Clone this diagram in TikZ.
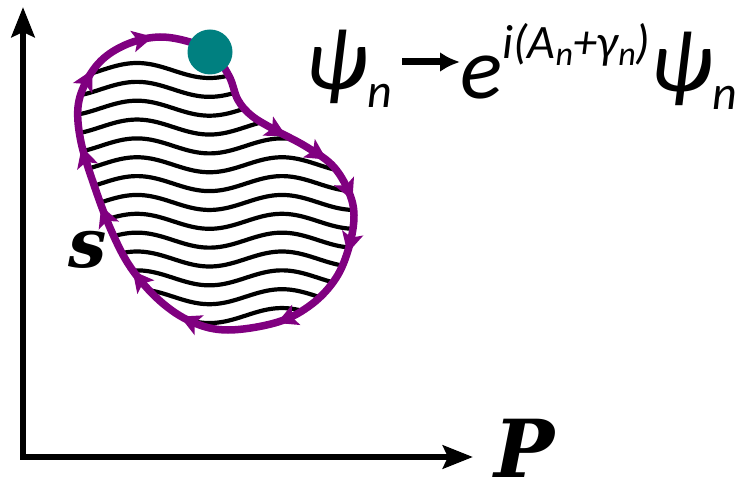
\documentclass[tikz,border=0pt]{standalone}
\usepackage{fontspec}
\usepackage{xcolor}
\usetikzlibrary{arrows.meta, decorations.markings}
\newfontfamily\formulafont{Carlito}
\newfontfamily\labelfont{DejaVu Serif}
\definecolor{LoopPurple}{RGB}{128,0,128}
\definecolor{DotTeal}{RGB}{0,128,128}
\newcommand{\flowtip}{\fill (11pt,0pt) -- (-10pt,11pt) -- (-5pt,0pt) -- (-10pt,-11pt) -- cycle;}

\begin{document}
\begin{tikzpicture}[
    x=1pt, y=-1pt,
    axis/.style={line width=6.5pt, line join=miter,
                 {Stealth[length=30pt, width=23pt, inset=5pt]}-{Stealth[length=30pt, width=23pt, inset=5pt]}},
    wave/.style={line width=4.2pt, black},
    loopshape/.style={insert path={plot[smooth cycle, tension=0.6] coordinates {
        (212,52) (229,76) (238,100) (252,116) (275,130) (305,146) (332,165)
        (348,190) (354,215) (349,247) (336,278) (312,304) (278,322) (228,330)
        (192,322) (160,301) (131,268) (111,230) (94,185) (81,142) (78,107)
        (87,80) (104,58) (130,43) (160,37) (190,42)}}},
    loopline/.style={line width=7.5pt, LoopPurple, postaction={decorate},
        decoration={markings,
            mark=at position 0.086 with {\flowtip},
            mark=at position 0.139 with {\flowtip},
            mark=at position 0.194 with {\flowtip},
            mark=at position 0.255 with {\flowtip},
            mark=at position 0.372 with {\flowtip},
            mark=at position 0.485 with {\flowtip},
            mark=at position 0.560 with {\flowtip},
            mark=at position 0.642 with {\flowtip},
            mark=at position 0.713 with {\flowtip},
            mark=at position 0.804 with {\flowtip},
            mark=at position 0.884 with {\flowtip}}},
    pivot/.style={circle, fill=DotTeal, minimum size=45pt, inner sep=0pt},
    formula/.style={inner sep=0pt, anchor=base west, font=\formulafont\itshape\fontsize{88}{88}\selectfont},
    axislabel/.style={inner sep=0pt, font=\labelfont\bfseries\itshape\fontsize{80}{80}\selectfont},
    maparrow/.style={line width=7pt, -{Latex[length=20pt, width=20pt]}}
]
\useasboundingbox (0,0) rectangle (741,489);

% axes
\coordinate (ytip)   at (23,7);
\coordinate (origin) at (23,457);
\coordinate (xtip)   at (473,457);
\draw[axis] (ytip) -- (origin) -- (xtip);
\node[axislabel] (plabel) at (525,448) {P};

% wavy lines inside the loop
\begin{scope}
\clip[loopshape];
\foreach \k in {0,...,13}
  \draw[wave] plot[domain=60:370, samples=100]
    (\x, {63 + 18.85*\k + 7.5*(1 - cos(2.48276*(\x - 137)))});
\end{scope}

% loop with flow arrows
\draw[loopline, loopshape];
\node[pivot] (dot) at (210,52) {};
\node[axislabel, font=\labelfont\bfseries\itshape\fontsize{68}{68}\selectfont] (slabel) at (88,250) {s};

% phase factor
\node[formula] (psiL) at (305,97) {\raisebox{0.08em}{ψ}\raisebox{-0.12em}{\fontsize{48}{48}\selectfont n}};
\node[formula] (psiR) at (460,99) {e\raisebox{0.46em}{\fontsize{48}{48}\selectfont i(A\raisebox{-0.14em}{\fontsize{34}{34}\selectfont n}+γ\raisebox{-0.14em}{\fontsize{34}{34}\selectfont n})}\raisebox{0.08em}{ψ}\raisebox{-0.12em}{\fontsize{48}{48}\selectfont n}};
\draw[maparrow] ([xshift=10pt, yshift=35pt]psiL.base east) -- ([yshift=37pt]psiR.base west);
\end{tikzpicture}
\end{document}
